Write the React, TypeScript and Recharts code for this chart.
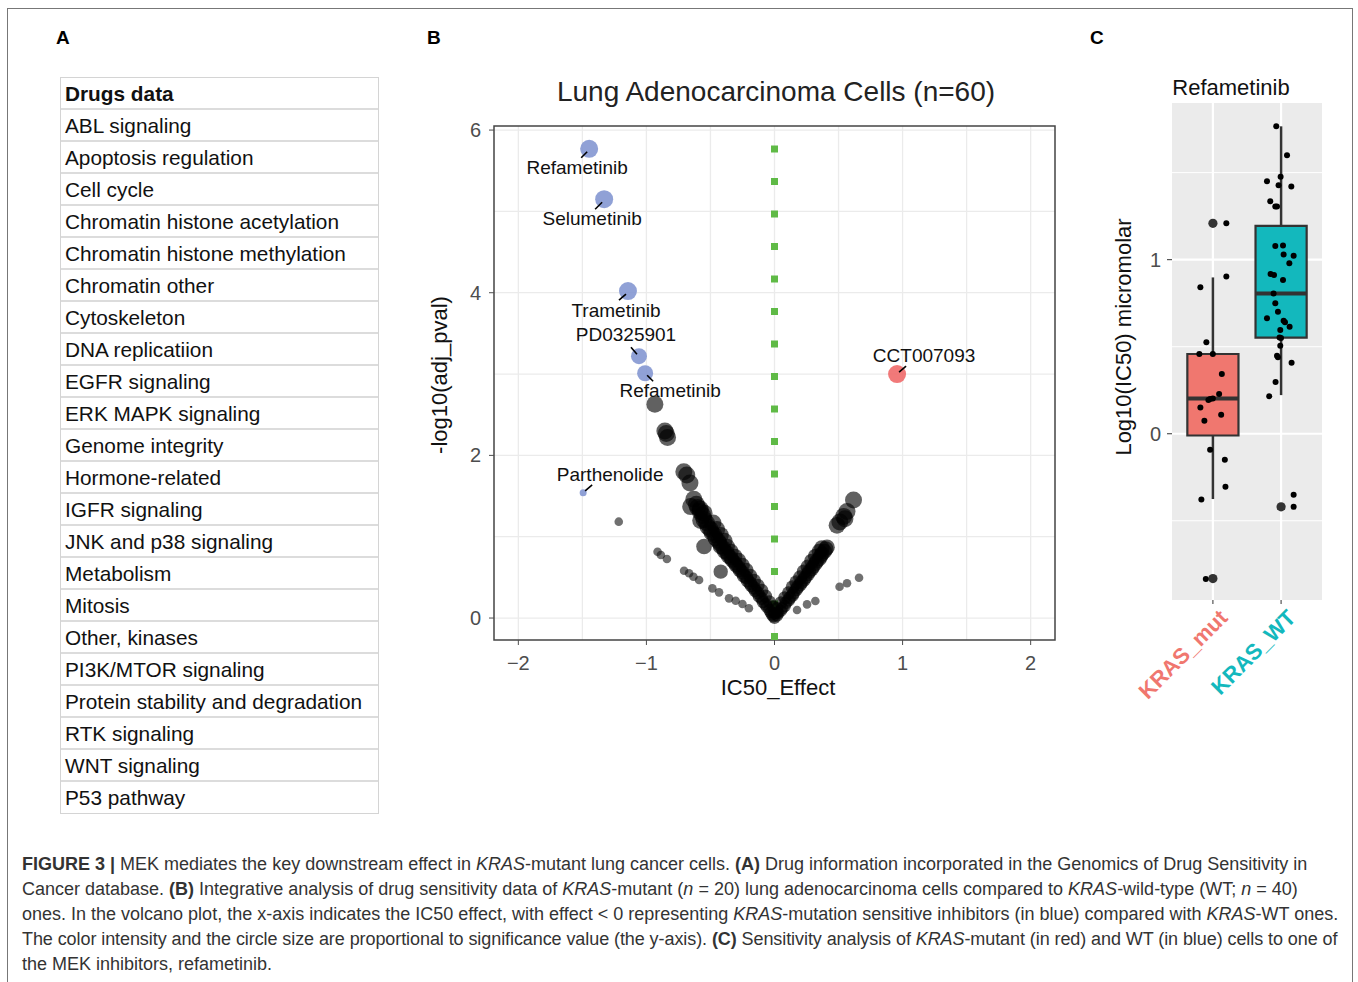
import React from "react";
import {
  ScatterChart,
  Scatter,
  XAxis,
  YAxis,
  CartesianGrid,
  ReferenceLine,
  ReferenceArea,
} from "recharts";

const FONT = '"Liberation Sans", Arial, Helvetica, sans-serif';

// Panel A: drug classes listed in the table
const drugClasses = [
  "ABL signaling",
  "Apoptosis regulation",
  "Cell cycle",
  "Chromatin histone acetylation",
  "Chromatin histone methylation",
  "Chromatin other",
  "Cytoskeleton",
  "DNA replicatiion",
  "EGFR signaling",
  "ERK MAPK signaling",
  "Genome integrity",
  "Hormone-related",
  "IGFR signaling",
  "JNK and p38 signaling",
  "Metabolism",
  "Mitosis",
  "Other, kinases",
  "PI3K/MTOR signaling",
  "Protein stability and degradation",
  "RTK signaling",
  "WNT signaling",
  "P53 pathway",
];

// Panel B: volcano plot (IC50_Effect, -log10(adj_pval))
const sensitiveDrugs = ["Refametinib", "Selumetinib", "Trametinib", "PD0325901", "Refametinib", "Parthenolide"];
const sensitiveEffect = [-1.447, -1.33, -1.144, -1.058, -1.01, -1.494];
const sensitivePval = [5.77, 5.15, 4.02, 3.22, 3.01, 1.54];

const resistantDrugs = ["CCT007093"];
const resistantEffect = [0.957];
const resistantPval = [3.0];

const upperTail: [number, number][] = [
  [-0.934, 2.63], [-0.856, 2.3], [-0.845, 2.27], [-0.835, 2.22], [-0.708, 1.8], [-0.685, 1.76],
  [-0.66, 1.66], [-0.654, 1.37], [-0.63, 1.46], [-0.61, 1.4], [-0.58, 1.34], [-0.576, 1.2],
  [-0.55, 1.29], [-0.55, 0.88], [-0.42, 0.57],
];

const leftArm: [number, number][] = [
  [-0.6, 1.36], [-0.58, 1.31], [-0.56, 1.26], [-0.55, 1.21], [-0.53, 1.17], [-0.52, 1.12],
  [-0.5, 1.09], [-0.49, 1.05], [-0.47, 1.02], [-0.46, 0.98], [-0.44, 0.95], [-0.43, 0.92],
  [-0.42, 0.88], [-0.4, 0.86], [-0.39, 0.82], [-0.37, 0.8], [-0.36, 0.76], [-0.34, 0.74],
  [-0.33, 0.71], [-0.31, 0.68], [-0.3, 0.65], [-0.28, 0.62], [-0.27, 0.59], [-0.25, 0.56],
  [-0.24, 0.52], [-0.22, 0.5], [-0.21, 0.46], [-0.19, 0.43], [-0.18, 0.4], [-0.16, 0.37],
  [-0.15, 0.34], [-0.13, 0.31], [-0.12, 0.27], [-0.1, 0.24], [-0.09, 0.2], [-0.07, 0.17],
  [-0.06, 0.14], [-0.04, 0.1], [-0.03, 0.07], [-0.02, 0.04], [-0.01, 0.02], [0, 0],
  [-0.48, 1.17], [-0.45, 1.09], [-0.42, 1.02], [-0.39, 0.95], [-0.37, 0.88], [-0.34, 0.82],
  [-0.31, 0.76], [-0.28, 0.71], [-0.25, 0.65], [-0.22, 0.59], [-0.19, 0.52], [-0.16, 0.46],
  [-0.13, 0.4], [-0.1, 0.34], [-0.07, 0.27], [-0.04, 0.2], [-0.01, 0.14], [0.02, 0.07],
];

const rightArm: [number, number][] = [
  [0.02, 0.03], [0.03, 0.06], [0.05, 0.09], [0.06, 0.12], [0.08, 0.15], [0.09, 0.19],
  [0.11, 0.22], [0.12, 0.25], [0.14, 0.28], [0.15, 0.31], [0.17, 0.35], [0.18, 0.38],
  [0.2, 0.41], [0.21, 0.44], [0.23, 0.47], [0.24, 0.5], [0.26, 0.54], [0.27, 0.57],
  [0.29, 0.6], [0.3, 0.63], [0.32, 0.67], [0.33, 0.7], [0.35, 0.73], [0.36, 0.76],
  [0.37, 0.79], [0.39, 0.82], [0.4, 0.85], [0.41, 0.87],
  [0.0, 0.06], [0.02, 0.12], [0.05, 0.19], [0.08, 0.25], [0.11, 0.31], [0.14, 0.38],
  [0.17, 0.44], [0.2, 0.5], [0.23, 0.57], [0.26, 0.63], [0.29, 0.7], [0.32, 0.76],
  [0.35, 0.82], [0.37, 0.86],
  [0.488, 1.14], [0.51, 1.18], [0.54, 1.25], [0.55, 1.22], [0.566, 1.31], [0.617, 1.45],
];

const strays: [number, number][] = [
  [-1.216, 1.185], [-0.913, 0.816], [-0.887, 0.775], [-0.84, 0.726], [-0.706, 0.582],
  [-0.667, 0.55], [-0.633, 0.508], [-0.589, 0.467], [-0.485, 0.365], [-0.433, 0.316],
  [-0.355, 0.242], [-0.303, 0.213], [-0.25, 0.172], [-0.2, 0.12], [0.176, 0.098],
  [0.254, 0.168], [0.319, 0.209], [0.508, 0.385], [0.566, 0.427], [0.66, 0.496],
];

// Panel C: refametinib IC50 by KRAS status
const groups = ["KRAS_mut", "KRAS_WT"];
const boxQ1 = [-0.01, 0.552];
const boxMedian = [0.203, 0.806];
const boxQ3 = [0.458, 1.194];
const whiskerLow = [-0.375, 0.222];
const whiskerHigh = [0.898, 1.766];

const mutJitter: [number, number][] = [
  [1.197, 1.209], [1.197, 0.904], [0.816, 0.841], [0.904, 0.525], [0.801, 0.458], [0.999, 0.458],
  [1.131, 0.343], [1.091, 0.228], [0.934, 0.194], [0.959, 0.199], [0.999, 0.203], [0.816, 0.151],
  [1.121, 0.109], [0.875, 0.075], [0.959, -0.092], [1.175, -0.149], [1.184, -0.305],
  [0.831, -0.378], [0.896, -0.835],
];
const wtJitter: [number, number][] = [
  [1.929, 1.766], [2.087, 1.6], [1.993, 1.477], [1.793, 1.45], [1.963, 1.427], [2.15, 1.42],
  [1.841, 1.335], [1.915, 1.305], [1.94, 1.305], [1.915, 1.079], [2.028, 1.082], [2.037, 1.029],
  [2.184, 1.023], [2.121, 0.979], [1.846, 0.918], [1.896, 0.912], [2.028, 0.883], [1.89, 0.806],
  [1.915, 0.749], [1.954, 0.701], [1.793, 0.663], [2.037, 0.649], [2.057, 0.64], [2.125, 0.615],
  [1.988, 0.596], [1.978, 0.553], [1.999, 0.55], [1.988, 0.506], [1.94, 0.448], [1.954, 0.439],
  [2.154, 0.408], [1.919, 0.297], [1.826, 0.216], [2.184, -0.42], [2.184, -0.35],
];
const outliers: [number, number][] = [
  [1, 1.209], [1, -0.832], [2, -0.42],
];

// tables for recharts
const sensitive = sensitiveDrugs.map((drug, i) => ({ drug, effect: sensitiveEffect[i], pval: sensitivePval[i], idx: i }));
const resistant = resistantDrugs.map((drug, i) => ({ drug, effect: resistantEffect[i], pval: resistantPval[i], idx: 6 + i }));
const toPts = (a: [number, number][]) => a.map(([effect, pval]) => ({ effect, pval }));
const corePts = toPts([...upperTail, ...leftArm, ...rightArm]);
const strayPts = toPts(strays);
const toBox = (a: [number, number][]) => a.map(([pos, value]) => ({ pos, value }));

// label placement for the annotated drugs (pixels relative to the point)
const labelStyle = [
  { r: 9, lx: -12, ly: 19, s: [-2, 3, -8, 9] },
  { r: 9, lx: -12, ly: 19, s: [-2, 3, -9, 10] },
  { r: 9, lx: -12, ly: 19, s: [-2, 3, -9, 9] },
  { r: 8, lx: -13, ly: -22, s: [-2, -2, -8, -9] },
  { r: 8, lx: 25, ly: 17, s: [2, 2, 8, 8] },
  { r: 3.5, lx: 27, ly: -18, s: [2, -2, 9, -8] },
  { r: 9, lx: 27, ly: -19, s: [2, -2, 9, -8] },
];

const HitShape = (props: any) => {
  const { cx, cy, payload } = props;
  const st = labelStyle[payload.idx];
  const color = payload.effect < 0 ? "#8497d2" : "#ef6a6a";
  return (
    <g>
      <circle cx={cx} cy={cy} r={st.r} fill={color} fillOpacity={0.9} />
      <line x1={cx + st.s[0]} y1={cy + st.s[1]} x2={cx + st.s[2]} y2={cy + st.s[3]} stroke="#000" strokeWidth={1.6} />
      <text x={cx + st.lx} y={cy + st.ly} textAnchor="middle" dominantBaseline="central" fontSize={19} fontFamily={FONT} fill="#111">
        {payload.drug}
      </text>
    </g>
  );
};

const CoreShape = (props: any) => {
  const { cx, cy, payload } = props;
  const r = 6 + (2.5 * Math.min(payload.pval, 1.2)) / 1.2;
  return <circle cx={cx} cy={cy} r={r} fill="#000" fillOpacity={0.62} />;
};

const StrayShape = (props: any) => <circle cx={props.cx} cy={props.cy} r={4.3} fill="#111" fillOpacity={0.6} />;
const JitterShape = (props: any) => <circle cx={props.cx} cy={props.cy} r={3} fill="#000" />;
const OutlierShape = (props: any) => <circle cx={props.cx} cy={props.cy} r={4.6} fill="#333" />;

const groupColors = ["#f0776f", "#13b8bd"];
const GroupTick = (props: any) => {
  const { x, y, payload } = props;
  const i = Math.round(payload.value) - 1;
  const ax = x + 16;
  const ay = y + 13;
  return (
    <text x={ax} y={ay} transform={`rotate(-45 ${ax} ${ay})`} textAnchor="end" fill={groupColors[i]} fontSize={22} fontWeight="bold" fontFamily={FONT}>
      {groups[i]}
    </text>
  );
};

const minus = (v: number) => (v < 0 ? "\u2212" + Math.abs(v) : String(v));
const tickStyle = { fill: "#4d4d4d", fontSize: 20, fontFamily: FONT };

const abs = (left: number, top: number, extra: React.CSSProperties = {}): React.CSSProperties => ({
  position: "absolute",
  left,
  top,
  ...extra,
});

const Volcano = () => (
  <ScatterChart width={660} height={660} margin={{ top: 66, right: 25, bottom: 0, left: 0 }}>
    <CartesianGrid
      stroke="#ebebeb"
      strokeWidth={1.3}
      horizontalValues={[0, 1, 2, 3, 4, 5, 6]}
      verticalValues={[-2, -1.5, -1, -0.5, 0, 0.5, 1, 1.5, 2]}
    />
    <XAxis
      type="number"
      dataKey="effect"
      domain={[-2.19, 2.19]}
      allowDataOverflow
      ticks={[-2, -1, 0, 1, 2]}
      tickFormatter={minus}
      height={80}
      axisLine={false}
      tickSize={5}
      tickMargin={11}
      tickLine={{ stroke: "#4d4d4d" }}
      tick={tickStyle}
    />
    <YAxis
      type="number"
      dataKey="pval"
      domain={[-0.27, 6.05]}
      allowDataOverflow
      ticks={[0, 2, 4, 6]}
      width={74}
      axisLine={false}
      tickSize={5}
      tickMargin={8}
      tickLine={{ stroke: "#4d4d4d" }}
      tick={tickStyle}
    />
    <Scatter data={strayPts} shape={StrayShape} isAnimationActive={false} />
    <Scatter data={corePts} shape={CoreShape} isAnimationActive={false} />
    <ReferenceLine
      segment={[{ x: 0, y: -0.27 }, { x: 0, y: 5.82 }]}
      stroke="#5fba46"
      strokeWidth={7}
      strokeDasharray="7 25.5"
    />
    <Scatter data={sensitive} shape={HitShape} isAnimationActive={false} />
    <Scatter data={resistant} shape={HitShape} isAnimationActive={false} />
    <ReferenceArea x1={-2.19} x2={2.19} y1={-0.27} y2={6.05} fill="none" stroke="#444" strokeWidth={1.5} />
  </ScatterChart>
);

const BoxPanel = () => (
  <ScatterChart width={260} height={660} margin={{ top: 43, right: 28, bottom: 0, left: 0 }}>
    <CartesianGrid fill="#ebebeb" stroke="#fff" strokeWidth={1} horizontalValues={[-0.5, 0.5, 1.5]} vertical={false} />
    <CartesianGrid stroke="#fff" strokeWidth={2.2} horizontalValues={[0, 1]} verticalValues={[1, 2]} />
    <XAxis
      type="number"
      dataKey="pos"
      domain={[0.4, 2.6]}
      allowDataOverflow
      ticks={[1, 2]}
      height={120}
      axisLine={false}
      tickSize={4}
      tickMargin={2}
      tickLine={{ stroke: "#333" }}
      tick={GroupTick}
    />
    <YAxis
      type="number"
      dataKey="value"
      domain={[-0.955, 1.9]}
      allowDataOverflow
      ticks={[0, 1]}
      width={82}
      axisLine={false}
      tickSize={5}
      tickMargin={6}
      tickLine={{ stroke: "#333" }}
      tick={tickStyle}
    />
    {groups.map((g, i) => (
      <ReferenceLine key={g + "lo"} segment={[{ x: i + 1, y: whiskerLow[i] }, { x: i + 1, y: boxQ1[i] }]} stroke="#333" strokeWidth={2.5} />
    ))}
    {groups.map((g, i) => (
      <ReferenceLine key={g + "hi"} segment={[{ x: i + 1, y: boxQ3[i] }, { x: i + 1, y: whiskerHigh[i] }]} stroke="#333" strokeWidth={2.5} />
    ))}
    {groups.map((g, i) => (
      <ReferenceArea
        key={g + "box"}
        x1={i + 1 - 0.375}
        x2={i + 1 + 0.375}
        y1={boxQ1[i]}
        y2={boxQ3[i]}
        fill={groupColors[i]}
        fillOpacity={1}
        stroke="#333"
        strokeWidth={2.2}
      />
    ))}
    {groups.map((g, i) => (
      <ReferenceLine key={g + "med"} segment={[{ x: i + 1 - 0.375, y: boxMedian[i] }, { x: i + 1 + 0.375, y: boxMedian[i] }]} stroke="#333" strokeWidth={4} />
    ))}
    <Scatter data={toBox(outliers)} shape={OutlierShape} isAnimationActive={false} />
    <Scatter data={toBox(mutJitter)} shape={JitterShape} isAnimationActive={false} />
    <Scatter data={toBox(wtJitter)} shape={JitterShape} isAnimationActive={false} />
  </ScatterChart>
);

const I = ({ children }: { children: React.ReactNode }) => <i>{children}</i>;
const B = ({ children }: { children: React.ReactNode }) => <b>{children}</b>;

export default function App() {
  return (
    <div style={abs(0, 0, { width: 1358, height: 982, background: "#fff", fontFamily: FONT, overflow: "hidden" })}>
      <div style={abs(7, 8, { width: 1346, height: 1000, border: "1.5px solid #777", boxSizing: "border-box" })} />

      {/* panel letters */}
      <div style={abs(56, 27, { fontSize: 19, fontWeight: "bold" })}>A</div>
      <div style={abs(427, 27, { fontSize: 19, fontWeight: "bold" })}>B</div>
      <div style={abs(1090, 27, { fontSize: 19, fontWeight: "bold" })}>C</div>

      {/* Panel A table */}
      <div style={abs(60, 77, { width: 319, border: "1.5px solid #d4d4d4", boxSizing: "border-box", color: "#111" })}>
        <div style={{ height: 30, lineHeight: "32px", fontSize: 20.8, fontWeight: "bold", paddingLeft: 4, borderBottom: "2px solid #dcdcdc" }}>
          Drugs data
        </div>
        {drugClasses.map((c, i) => (
          <div
            key={c}
            style={{
              height: i === drugClasses.length - 1 ? 31 : 30,
              lineHeight: "32px",
              fontSize: 20.8,
              paddingLeft: 4,
              borderBottom: i === drugClasses.length - 1 ? "none" : "2px solid #dcdcdc",
            }}
          >
            {c}
          </div>
        ))}
      </div>

      {/* Panel B */}
      <div style={abs(476, 75, { width: 600, textAlign: "center", fontSize: 28, lineHeight: "34px", color: "#222" })}>
        Lung Adenocarcinoma Cells (n=60)
      </div>
      <div style={abs(420, 60)}>
        <Volcano />
      </div>
      <div style={abs(678, 674, { width: 200, textAlign: "center", fontSize: 22, lineHeight: "28px", color: "#111" })}>IC50_Effect</div>
      <div
        style={abs(290, 361, {
          width: 300,
          textAlign: "center",
          fontSize: 22,
          lineHeight: "28px",
          color: "#111",
          transform: "rotate(-90deg)",
        })}
      >
        -log10(adj_pval)
      </div>

      {/* Panel C */}
      <div style={abs(1131, 74, { width: 200, textAlign: "center", fontSize: 22, lineHeight: "28px", color: "#111" })}>Refametinib</div>
      <div style={abs(1090, 60)}>
        <BoxPanel />
      </div>
      <div
        style={abs(974, 323, {
          width: 300,
          textAlign: "center",
          fontSize: 22,
          lineHeight: "28px",
          color: "#111",
          transform: "rotate(-90deg)",
        })}
      >
        Log10(IC50) micromolar
      </div>

      {/* caption */}
      <div style={abs(22, 852, { fontSize: 18, lineHeight: "25px", color: "#333", whiteSpace: "nowrap" })}>
        <div>
          <B>FIGURE 3 |</B> MEK mediates the key downstream effect in <I>KRAS</I>-mutant lung cancer cells. <B>(A)</B> Drug information
          incorporated in the Genomics of Drug Sensitivity in
        </div>
        <div>
          Cancer database. <B>(B)</B> Integrative analysis of drug sensitivity data of <I>KRAS</I>-mutant (<I>n</I> = 20) lung adenocarcinoma
          cells compared to <I>KRAS</I>-wild-type (WT; <I>n</I> = 40)
        </div>
        <div>
          ones. In the volcano plot, the x-axis indicates the IC50 effect, with effect &lt; 0 representing <I>KRAS</I>-mutation sensitive
          inhibitors (in blue) compared with <I>KRAS</I>-WT ones.
        </div>
        <div style={{ letterSpacing: -0.08 }}>
          The color intensity and the circle size are proportional to significance value (the y-axis). <B>(C)</B> Sensitivity analysis of{" "}
          <I>KRAS</I>-mutant (in red) and WT (in blue) cells to one of
        </div>
        <div>the MEK inhibitors, refametinib.</div>
      </div>
    </div>
  );
}
